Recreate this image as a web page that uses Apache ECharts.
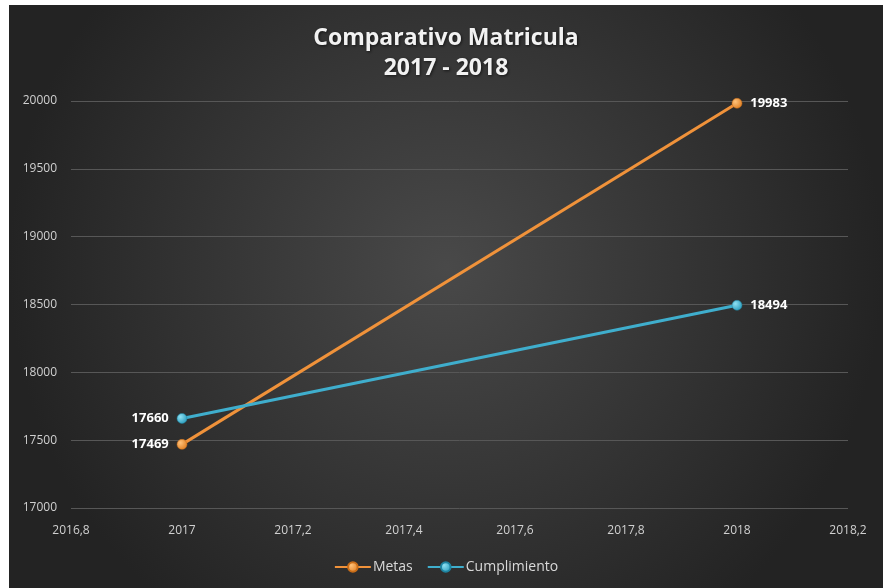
<!DOCTYPE html>
<html>
<head>
<meta charset="utf-8">
<script src="https://cdn.jsdelivr.net/npm/echarts@6/dist/echarts.min.js"></script>
<style>
html,body{margin:0;padding:0;background:#fff;width:883px;height:588px;overflow:hidden;}
#c{position:absolute;left:9px;top:5px;width:874px;height:583px;}
</style>
</head>
<body>
<div id="c"></div>
<script>
const years = [2017, 2018];
const metas = [17469, 19983];
const cumplimiento = [17660, 18494];
const seriesNames = ['Metas', 'Cumplimiento'];
const titleLines = ['Comparativo Matricula', '2017 - 2018'];

const chart = echarts.init(document.getElementById('c'));
const pts = arr => years.map((y, i) => [y, arr[i]]);
function markerColor(c1, c2) {
  return new echarts.graphic.RadialGradient(0.35, 0.35, 0.7, [
    {offset: 0, color: c1}, {offset: 1, color: c2}
  ]);
}
const option = {
  backgroundColor: new echarts.graphic.RadialGradient(0.5, 0.45, 0.75, [
    {offset: 0, color: '#494949'},
    {offset: 1, color: '#232323'}
  ]),
  animation: false,
  title: {
    text: titleLines.join('\n'),
    left: 'center',
    top: 13,
    textStyle: {color: '#f2f2f2', fontSize: 23, fontWeight: 'bold', fontFamily: 'Open Sans, sans-serif', lineHeight: 30,
      textShadowColor: 'rgba(0,0,0,0.6)', textShadowBlur: 3, textShadowOffsetX: 1, textShadowOffsetY: 1}
  },
  grid: {left: 62, right: 35, top: 96, bottom: 80},
  xAxis: {
    type: 'value', min: 2016.8, max: 2018.2, interval: 0.2,
    axisLine: {show: false}, axisTick: {show: false}, splitLine: {show: false},
    axisLabel: {color: '#d0d0d0', fontSize: 12, fontFamily: 'Open Sans, sans-serif', margin: 17,
      formatter: v => String(Math.round(v * 10) / 10).replace('.', ',')}
  },
  yAxis: {
    type: 'value', min: 17000, max: 20000, interval: 500,
    axisLine: {show: false}, axisTick: {show: false},
    splitLine: {lineStyle: {color: '#575757', width: 1}},
    axisLabel: {color: '#d0d0d0', fontSize: 12, fontFamily: 'Open Sans, sans-serif', margin: 14,
      formatter: v => String(v)}
  },
  legend: {
    bottom: 9, left: 'center', itemWidth: 36, itemHeight: 12, itemGap: 14,
    textStyle: {color: '#d9d9d9', fontSize: 14, fontFamily: 'Open Sans, sans-serif', padding: [0, 0, 0, -3]},
    data: seriesNames
  },
  series: [
    {
      name: seriesNames[0], type: 'line',
      symbol: 'circle', symbolSize: 10,
      lineStyle: {color: '#f0923a', width: 3},
      itemStyle: {color: markerColor('#ffc27a', '#e07f22'), borderColor: '#c96d18', borderWidth: 0.5},
      label: {show: true, color: '#ffffff', fontWeight: 'bold', fontSize: 13, fontFamily: 'Open Sans, sans-serif', distance: 8},
      data: pts(metas).map((p, i) => ({value: p, label: {position: i === 0 ? 'left' : 'right', formatter: () => String(metas[i])}}))
    },
    {
      name: seriesNames[1], type: 'line',
      symbol: 'circle', symbolSize: 10,
      lineStyle: {color: '#3faecd', width: 3},
      itemStyle: {color: markerColor('#8fe0f2', '#2a9cbc'), borderColor: '#1f84a1', borderWidth: 0.5},
      label: {show: true, color: '#ffffff', fontWeight: 'bold', fontSize: 13, fontFamily: 'Open Sans, sans-serif', distance: 8},
      data: pts(cumplimiento).map((p, i) => ({value: p, label: {position: i === 0 ? 'left' : 'right', formatter: () => String(cumplimiento[i])}}))
    }
  ]
};
chart.setOption(option);
</script>
</body>
</html>
